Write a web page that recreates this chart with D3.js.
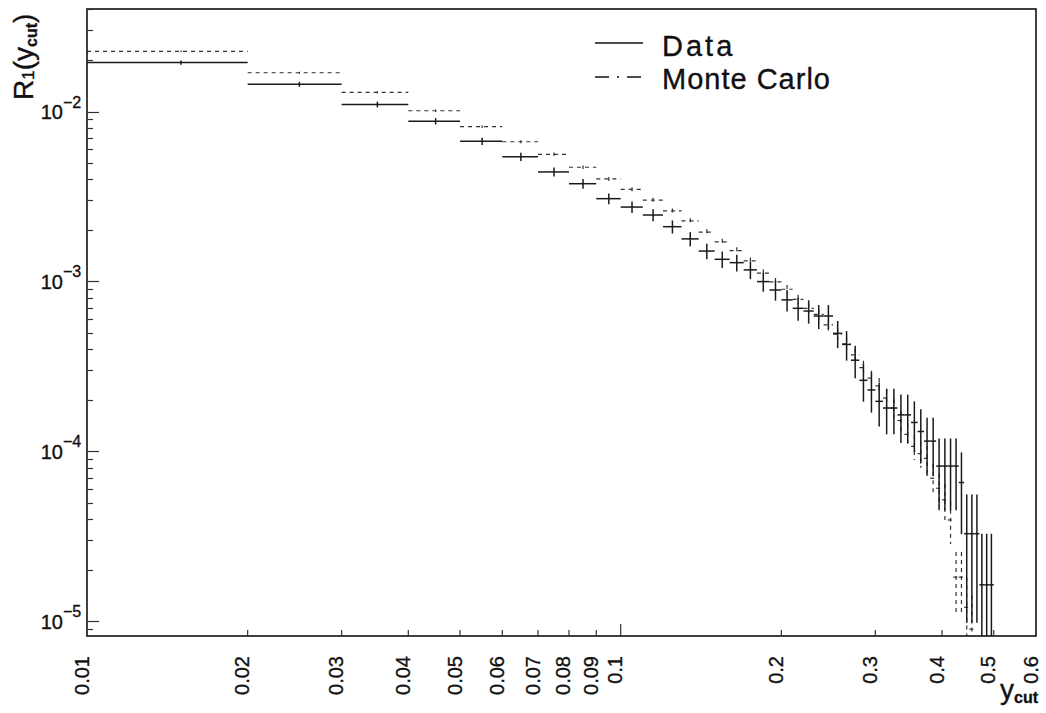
<!DOCTYPE html>
<html>
<head>
<meta charset="utf-8">
<script src="https://cdn.jsdelivr.net/npm/d3@7"></script>
<style>
  body { margin: 0; background: #fff; }
  svg { display: block; }
  text { font-family: "Liberation Sans", Arial, Helvetica, sans-serif; fill: #111; stroke: #111; stroke-width: 0.35; }
</style>
</head>
<body>
<svg id="chart" width="1046" height="713"></svg>
<script>
// Bin edges in y_cut
const binEdges = [
  0.01, 0.02, 0.03, 0.04, 0.05, 0.06, 0.07, 0.08, 0.09,
  0.10, 0.11, 0.12, 0.13, 0.14, 0.15, 0.16, 0.17, 0.18, 0.19,
  0.20, 0.21, 0.22, 0.23, 0.24, 0.25, 0.26, 0.27, 0.28, 0.29,
  0.30, 0.31, 0.32, 0.33, 0.34, 0.35, 0.36, 0.37, 0.38, 0.39,
  0.40, 0.41, 0.42, 0.43, 0.44, 0.45, 0.46, 0.47, 0.48, 0.49, 0.50
];

// Measured R1(y_cut) and its error per bin
const dataVal = [
  0.0194, 0.01445, 0.0110, 0.00876, 0.00668, 0.00542, 0.00441, 0.00376, 0.00307,
  0.00274, 0.00246, 0.00210, 0.00178, 0.00151, 0.00135, 0.00129, 0.00117, 0.000998, 0.000891,
  0.000779, 0.000695, 0.00067, 0.000626, 0.000626, 0.000495, 0.000426, 0.000344, 0.000262, 0.00023,
  0.000197, 0.00018, 0.00018, 0.000164, 0.000164, 0.000148, 0.000131, 0.000115, 0.000115, 0.000082,
  0.000082, 0.000082, 0.000082, 0.0000656, 0.0000328, 0.0000328, 0.0000328, 0.0000164, 0.0000164, 0.0000164
];
const dataErr = [
  5.6e-4, 4.9e-4, 4.3e-4, 3.8e-4, 3.3e-4, 3.0e-4, 2.7e-4, 2.5e-4, 2.25e-4,
  2.1e-4, 2.0e-4, 1.86e-4, 1.71e-4, 1.57e-4, 1.49e-4, 1.45e-4, 1.38e-4, 1.28e-4, 1.21e-4,
  1.13e-4, 1.07e-4, 1.05e-4, 1.01e-4, 1.01e-4, 9.0e-5, 8.4e-5, 7.5e-5, 6.6e-5, 6.1e-5,
  5.7e-5, 5.4e-5, 5.4e-5, 5.2e-5, 5.2e-5, 4.9e-5, 4.6e-5, 4.3e-5, 4.3e-5, 3.7e-5,
  3.7e-5, 3.7e-5, 3.7e-5, 3.3e-5, 2.3e-5, 2.3e-5, 2.3e-5, 1.64e-5, 1.64e-5, 1.64e-5
];

// Monte Carlo prediction per bin (0 = empty bin)
const mcVal = [
  0.0226, 0.0169, 0.01297, 0.0101, 0.00814, 0.00664, 0.0056, 0.0047, 0.00401,
  0.00348, 0.00301, 0.0026, 0.00227, 0.00195, 0.00171, 0.00152, 0.00132, 0.00112, 0.000993,
  0.0009, 0.000785, 0.000695, 0.00064, 0.000555, 0.00049, 0.00043, 0.00037, 0.000311, 0.00027,
  0.000243, 0.000206, 0.00018, 0.000152, 0.000126, 0.000107, 0.000097, 0.000091, 0.0000695, 0.0000607,
  0.0000519, 0.0000395, 0.0000182, 0.0000182, 0.0000121, 0.000009, 0, 0, 0, 0
];
const mcErr = [
  2.6e-4, 2.25e-4, 1.97e-4, 1.74e-4, 1.56e-4, 1.41e-4, 1.3e-4, 1.19e-4, 1.1e-4,
  1.02e-4, 9.5e-5, 8.8e-5, 8.2e-5, 7.6e-5, 7.2e-5, 6.7e-5, 6.3e-5, 5.8e-5, 5.5e-5,
  5.2e-5, 4.9e-5, 4.6e-5, 4.4e-5, 4.1e-5, 3.8e-5, 3.6e-5, 3.3e-5, 3.05e-5, 2.85e-5,
  2.7e-5, 2.5e-5, 2.3e-5, 2.1e-5, 1.95e-5, 1.8e-5, 1.7e-5, 1.65e-5, 1.45e-5, 1.35e-5,
  1.25e-5, 1.1e-5, 7.4e-6, 7.4e-6, 6e-6, 5.2e-6, 0, 0, 0, 0
];

// Axis ticks and labels
const xTickValues = [0.01, 0.02, 0.03, 0.04, 0.05, 0.06, 0.07, 0.08, 0.09, 0.1, 0.2, 0.3, 0.4, 0.5, 0.6];
const xTickLabels = ["0.01", "0.02", "0.03", "0.04", "0.05", "0.06", "0.07", "0.08", "0.09", "0.1", "0.2", "0.3", "0.4", "0.5", "0.6"];
const yMajorValues = [1e-5, 1e-4, 1e-3, 1e-2];
const yMajorExponents = ["\u22125", "\u22124", "\u22123", "\u22122"];
const legendLabels = ["Data", "Monte Carlo"];

const svg = d3.select("#chart");
const plotL = 87, plotR = 1036, plotT = 9, plotB = 636;

const x = d3.scaleLog().domain([0.01, 0.6]).range([plotL, plotR]);
const y = d3.scaleLog().domain([8.2e-6, 0.0401]).range([plotB, plotT]);

svg.append("defs").append("clipPath").attr("id", "plotArea")
  .append("rect").attr("x", plotL).attr("y", plotT)
  .attr("width", plotR - plotL).attr("height", plotB - plotT);

// Bins as records
const bins = dataVal.map((v, i) => ({
  lo: binEdges[i], hi: binEdges[i + 1], mid: (binEdges[i] + binEdges[i + 1]) / 2,
  d: v, de: dataErr[i], m: mcVal[i], me: mcErr[i]
}));

const yFloor = 1e-7;
const plot = svg.append("g").attr("clip-path", "url(#plotArea)");

// Monte Carlo: dashed bin lines with error bars
const mcG = plot.append("g")
  .attr("stroke", "#333").attr("stroke-width", 1.2).attr("stroke-dasharray", "4,4").attr("fill", "none");
bins.filter(b => b.m > 0).forEach(b => {
  mcG.append("line").attr("x1", x(b.lo)).attr("x2", x(b.hi)).attr("y1", y(b.m)).attr("y2", y(b.m));
  mcG.append("line").attr("x1", x(b.mid)).attr("x2", x(b.mid))
    .attr("y1", y(b.m + b.me)).attr("y2", y(Math.max(b.m - b.me, yFloor)));
});

// Data: solid bin lines with error bars
const dG = plot.append("g").attr("stroke", "#1a1a1a").attr("stroke-width", 1.5).attr("fill", "none");
bins.filter(b => b.d > 0).forEach(b => {
  dG.append("line").attr("x1", x(b.lo)).attr("x2", x(b.hi)).attr("y1", y(b.d)).attr("y2", y(b.d));
  dG.append("line").attr("x1", x(b.mid)).attr("x2", x(b.mid))
    .attr("y1", y(b.d + b.de)).attr("y2", y(Math.max(b.d - b.de, yFloor)));
});

// Frame
svg.append("rect").attr("x", plotL).attr("y", plotT).attr("width", plotR - plotL).attr("height", plotB - plotT)
  .attr("fill", "none").attr("stroke", "#111").attr("stroke-width", 1.6);

// Y ticks (inside, from left frame)
const yTicks = y.ticks().filter(t => t >= y.domain()[0] && t <= y.domain()[1]);
const isMajor = t => Math.abs(Math.log10(t) - Math.round(Math.log10(t))) < 1e-6;
svg.append("g").selectAll("line").data(yTicks).join("line")
  .attr("x1", plotL).attr("x2", t => plotL + (isMajor(t) ? 12 : 6))
  .attr("y1", t => Math.round(y(t)) + 0.5).attr("y2", t => Math.round(y(t)) + 0.5)
  .attr("stroke", "#333").attr("stroke-width", 1.2);

// Y labels: 10 with superscript exponent
const yLab = svg.append("g");
yMajorValues.forEach((v, i) => {
  const ty = y(v);
  yLab.append("text").attr("x", 63).attr("y", ty + 7.5).attr("text-anchor", "end")
    .attr("font-size", 20).text("10");
  yLab.append("text").attr("x", 63).attr("y", ty - 4).attr("text-anchor", "start")
    .attr("font-size", 16).text(yMajorExponents[i]);
});

// X ticks (inside, from bottom frame)
svg.append("g").selectAll("line").data(xTickValues.filter(v => v > 0.01 && v < 0.6)).join("line")
  .attr("x1", v => x(v)).attr("x2", v => x(v))
  .attr("y1", plotB).attr("y2", v => plotB - (v === 0.1 ? 12 : 6))
  .attr("stroke", "#333").attr("stroke-width", 1.2);

// X labels, rotated
svg.append("g").selectAll("text").data(xTickValues).join("text")
  .attr("transform", v => `translate(${x(v) + 1.5},656) rotate(-90)`)
  .attr("text-anchor", "end").attr("font-size", 20)
  .text((v, i) => xTickLabels[i]);

// Axis titles
const yt = svg.append("text").attr("transform", "translate(33,100) rotate(-90)")
  .attr("font-size", 28);
yt.append("tspan").text("R");
yt.append("tspan").attr("font-size", 17).attr("dy", 1).text("1");
yt.append("tspan").attr("dy", -1).text("(y");
yt.append("tspan").attr("font-size", 16).attr("font-weight", "bold").attr("dy", 4).text("cut");
yt.append("tspan").attr("dy", -4).text(")");

const xt = svg.append("text").attr("x", 1038).attr("y", 699).attr("text-anchor", "end").attr("font-size", 28);
xt.append("tspan").text("y");
xt.append("tspan").attr("font-size", 16).attr("font-weight", "bold").attr("dy", 4).text("cut");

// Legend
const lg = svg.append("g");
lg.append("line").attr("x1", 595).attr("x2", 643).attr("y1", 43).attr("y2", 43)
  .attr("stroke", "#111").attr("stroke-width", 1.6);
lg.append("line").attr("x1", 595).attr("x2", 643).attr("y1", 77).attr("y2", 77)
  .attr("stroke", "#111").attr("stroke-width", 1.6).attr("stroke-dasharray", "14,8,2,8,14");
lg.append("text").attr("x", 662).attr("y", 56).attr("font-size", 29).attr("letter-spacing", 3).text(legendLabels[0]);
lg.append("text").attr("x", 662).attr("y", 88.5).attr("font-size", 29).attr("letter-spacing", 1).text(legendLabels[1]);
</script>
</body>
</html>
